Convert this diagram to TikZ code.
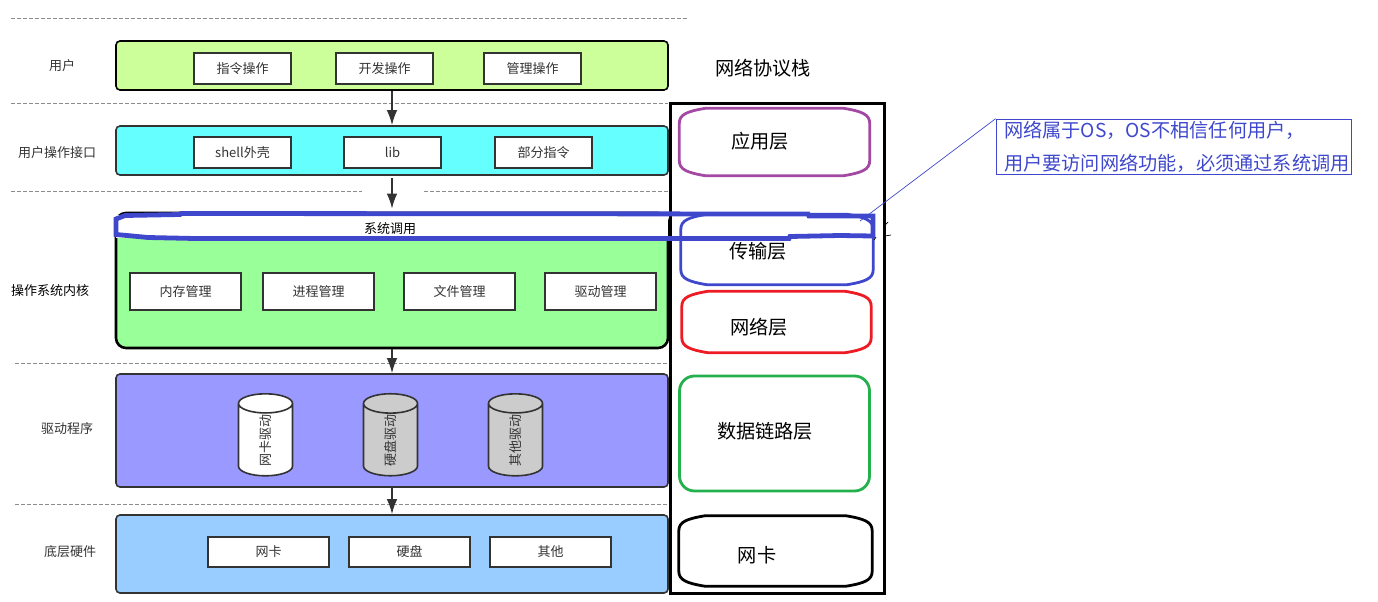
\documentclass[tikz,border=0pt]{standalone}
\usepackage{fontspec}
\setmainfont{Noto Sans CJK SC}
\usetikzlibrary{arrows.meta,shapes.geometric}
\definecolor{edgeblue}{HTML}{3F48CC}
\definecolor{edgepurple}{HTML}{A349A4}
\definecolor{edgered}{HTML}{ED1C24}
\definecolor{edgegreen}{HTML}{22B14C}
\definecolor{darkline}{HTML}{333333}
\tikzset{
  small/.style={font=\fontsize{13}{15}\selectfont,text=darkline,inner sep=0pt},
  large/.style={font=\fontsize{19.2}{23}\selectfont,text=black,inner sep=0pt},
  layerbox/.style={draw=darkline,line width=1.6pt,rounded corners=4pt,minimum width=552pt,inner sep=0pt},
  tagbox/.style={small,draw=darkline,line width=1.6pt,fill=white},
  stackbox/.style={minimum width=190pt,inner sep=0pt},
  sepline/.style={draw=black!45,dash pattern=on 4pt off 2pt,line width=0.8pt},
  flow/.style={draw=darkline,line width=1.5pt,-{Latex[length=15pt,width=10.5pt]}},
  drum/.style={small,draw=darkline,line width=1.6pt,cylinder,rotate=90,aspect=1.6,
    minimum width=54pt,minimum height=82pt},
}
\newcommand{\softbox}[2]{
  \draw[#2,line width=2.8pt] ([shift={(0,15)}]#1.north west)
    .. controls ([shift={(0,6)}]#1.north west) and ([shift={(8,3)}]#1.north west) .. ([shift={(26,0)}]#1.north west)
    -- ([shift={(-26,0)}]#1.north east)
    .. controls ([shift={(-8,3)}]#1.north east) and ([shift={(0,6)}]#1.north east) .. ([shift={(0,15)}]#1.north east)
    -- ([shift={(0,-15)}]#1.south east)
    .. controls ([shift={(0,-6)}]#1.south east) and ([shift={(-8,-3)}]#1.south east) .. ([shift={(-26,0)}]#1.south east)
    -- ([shift={(26,0)}]#1.south west)
    .. controls ([shift={(8,-3)}]#1.south west) and ([shift={(0,-6)}]#1.south west) .. ([shift={(0,-15)}]#1.south west)
    -- cycle;
}
\begin{document}
\begin{tikzpicture}[x=1pt,y=-1pt]
   \useasboundingbox (0,0) rectangle (1378,602);

   % separators
   \coordinate (s1a) at (11,18);   \coordinate (s1b) at (688,18);
   \coordinate (s2a) at (11,103);  \coordinate (s2b) at (668,103);
   \coordinate (s3a) at (11,191);  \coordinate (s3b) at (362,191);
   \coordinate (s3c) at (424,191); \coordinate (s3d) at (668,191);
   \coordinate (s4a) at (15,363);  \coordinate (s4b) at (668,363);
   \coordinate (s5a) at (15,504);  \coordinate (s5b) at (668,504);
   \draw[sepline] (s1a) -- (s1b);
   \draw[sepline] (s2a) -- (s2b);
   \draw[sepline] (s3a) -- (s3b);
   \draw[sepline] (s3c) -- (s3d);
   \draw[sepline] (s4a) -- (s4b);
   \draw[sepline] (s5a) -- (s5b);

   % left column
   \node[small] (lbuser) at (62,66) {用户};
   \node[small] (lbapi) at (57,153) {用户操作接口};
   \node[small,text=black] (lbkernel) at (50,291) {操作系统内核};
   \node[small] (lbdriver) at (67,429) {驱动程序};
   \node[small] (lbhard) at (70,552) {底层硬件};

   % layers
   \node[layerbox,draw=black,fill={rgb,255:red,204;green,255;blue,153},minimum height=49pt] (user) at (392,65.5) {};
   \node[layerbox,fill={rgb,255:red,102;green,255;blue,255},minimum height=49pt] (api) at (392,150.5) {};
   \node[layerbox,draw=black,line width=2.6pt,rounded corners=10pt,fill={rgb,255:red,153;green,255;blue,153},minimum height=135pt] (kernel) at (392,280.5) {};
   \node[fill=white,minimum width=552pt,minimum height=23pt,inner sep=0pt] (sysfill) at (392,226.5) {};
   \node[layerbox,fill={rgb,255:red,153;green,153;blue,255},minimum height=113pt] (driver) at (392,430.5) {};
   \node[layerbox,fill={rgb,255:red,153;green,204;blue,255},minimum height=78pt] (hard) at (392,554) {};

   \node[tagbox,minimum width=97pt,minimum height=31pt] (cmdop) at (242.5,68.5) {指令操作};
   \node[tagbox,minimum width=97pt,minimum height=31pt] (devop) at (384.5,68.5) {开发操作};
   \node[tagbox,minimum width=97pt,minimum height=31pt] (admop) at (532.5,68.5) {管理操作};

   \node[tagbox,minimum width=97pt,minimum height=31pt] (shell) at (242.5,152.5) {shell外壳};
   \node[tagbox,minimum width=97pt,minimum height=31pt] (lib) at (392.5,152.5) {lib};
   \node[tagbox,minimum width=97pt,minimum height=31pt] (part) at (543.5,152.5) {部分指令};

   \node[small,text=black] (syscall) at (390,229) {系统调用};
   \node[tagbox,minimum width=111pt,minimum height=37pt] (mem) at (185.5,291.5) {内存管理};
   \node[tagbox,minimum width=111pt,minimum height=37pt] (proc) at (318.5,291.5) {进程管理};
   \node[tagbox,minimum width=111pt,minimum height=37pt] (file) at (459.5,291.5) {文件管理};
   \node[tagbox,minimum width=111pt,minimum height=37pt] (drv) at (600.5,291.5) {驱动管理};

   \node[drum,fill=white] (nicdrv) at (265.5,440) {网卡驱动};
   \node[drum,fill=black!20] (diskdrv) at (390.5,440) {硬盘驱动};
   \node[drum,fill=black!20] (otherdrv) at (515.5,440) {其他驱动};

   \node[tagbox,minimum width=121pt,minimum height=30pt] (nic) at (268.5,552) {网卡};
   \node[tagbox,minimum width=121pt,minimum height=30pt] (disk) at (409.5,552) {硬盘};
   \node[tagbox,minimum width=121pt,minimum height=30pt] (other) at (550.5,552) {其他};

   \draw[flow] (user) -- (api.north);
   \draw[flow,shorten <=2pt,shorten >=3pt] (api.south) -- (kernel.north);
   \draw[flow] (kernel.south) -- (driver.north);
   \draw[flow] (driver.south) -- (hard.north);

   % protocol stack
   \node[large] (stacktitle) at (763,68) {网络协议栈};
   \node[draw=black,line width=2.8pt,minimum width=214pt,minimum height=490pt,inner sep=0pt] (stack) at (777.5,348.5) {};
   \node[stackbox,minimum height=67pt] (app) at (774.5,142) {};
   \node[stackbox,minimum width=192pt,minimum height=70pt] (trans) at (777,249.5) {};
   \node[stackbox,minimum width=189pt,minimum height=61pt] (net) at (776.5,322) {};
   \node[stackbox,draw=edgegreen,line width=2.8pt,rounded corners=15pt,minimum height=115pt] (link) at (774.5,433.5) {};
   \node[stackbox,minimum width=193pt,minimum height=70pt] (card) at (775.5,551) {};
   \softbox{app}{edgepurple}
   \softbox{trans}{edgeblue}
   \softbox{net}{edgered}
   \softbox{card}{black}
   \node[large] (lbapp) at (760,141) {应用层};
   \node[large] (lbtrans) at (758,251) {传输层};
   \node[large] (lbnet) at (759,327) {网络层};
   \node[large] (lblink) at (765,431) {数据链路层};
   \node[large] (lbcard) at (757,555) {网卡};

   % system call band and its note
   \draw[edgeblue,line width=4.8pt] (127,235.5) -- (116,234.5) -- (116,219) -- (125,215.5) -- (180,214.5) -- (181,213.5)
     -- (808,214) -- (809,216) -- (873,216) -- (873,236) -- (840,235.5) -- (790,236.5) -- (789,238.5)
     -- (195,238.5) -- (148,237.5) -- cycle;
   \node[draw=edgeblue,line width=0.7pt,text=edgeblue,font=\fontsize{19.2}{33}\selectfont,
     align=left,text width=339pt,inner xsep=8pt,inner ysep=0pt,minimum height=55pt] (note) at (1173.5,146.5)
     {\raisebox{1pt}{网络属于OS，OS不相信任何用户，}\\\raisebox{1pt}{用户要访问网络功能，必须通过系统调用}};
   \coordinate (noteend) at (860,221);
   \draw[draw=edgeblue,line width=0.7pt] (note.north west) -- (noteend);

   % stray marks beside the frame
   \draw[line width=0.7pt] (885,225) -- (888,222);
   \draw[line width=0.7pt] (885,236) -- (891,235);
   \draw[line width=0.7pt] (874,240) -- (876,237);
\end{tikzpicture}
\end{document}
